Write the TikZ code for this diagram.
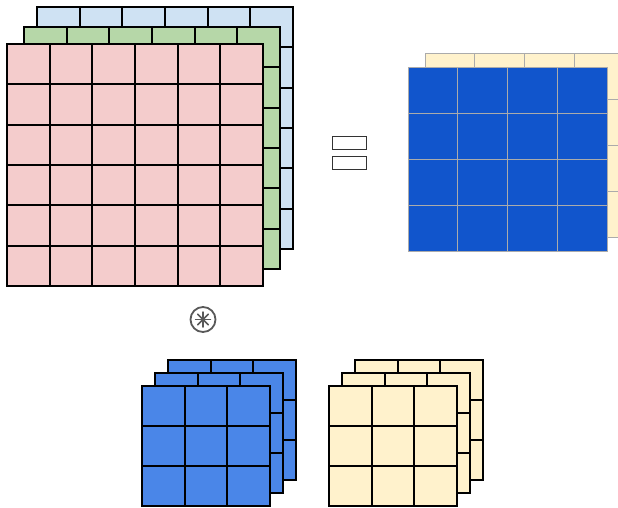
\documentclass[tikz,border=0pt]{standalone}
\usepackage{tikz}
\usetikzlibrary{positioning,calc}
\definecolor{chred}{HTML}{F4CCCC}
\definecolor{chgreen}{HTML}{B6D7A8}
\definecolor{chblue}{HTML}{CFE2F3}
\definecolor{kblue}{HTML}{4A86E8}
\definecolor{kyellow}{HTML}{FFF2CC}
\definecolor{outblue}{HTML}{1155CC}
\definecolor{outline}{HTML}{ABABAB}
\newcommand{\fmaplayer}[6]{%
  \draw[#6] (#1) rectangle ++(#2*#4, #3*#5);
  \pgfmathtruncatemacro\lastc{#2-1}
  \pgfmathtruncatemacro\lastr{#3-1}
  \foreach \c in {1,...,\lastc}
    \draw[#6, fill=none] ($(#1)+(\c*#4,0)$) -- ++(0,#3*#5);
  \foreach \r in {1,...,\lastr}
    \draw[#6, fill=none] ($(#1)+(0,\r*#5)$) -- ++(#2*#4,0);
}

\begin{document}
\begin{tikzpicture}[
  x=1pt, y=-1pt,
  cell/.style={draw=black, line width=2.2pt},
  outcell/.style={draw=outline, line width=1pt},
  eqbar/.style={draw=black!80, line width=1pt, fill=white, inner sep=0pt,
                minimum width=34pt, minimum height=13pt},
  conv/.style={circle, draw=black!65, line width=1.8pt, minimum size=25pt, inner sep=0pt}
]
  \useasboundingbox (0,0) rectangle (618,507);
  % input feature map
  \coordinate (in-b) at (37,7);
  \coordinate (in-g) at (24,27);
  \coordinate (in-r) at (7,44);
  \fmaplayer{in-b}{6}{6}{42.67}{40.33}{cell, fill=chblue}
  \fmaplayer{in-g}{6}{6}{42.67}{40.33}{cell, fill=chgreen}
  \fmaplayer{in-r}{6}{6}{42.67}{40.33}{cell, fill=chred}
  % equals
  \node[eqbar] (eqtop) at (349,142.5) {};
  \node[eqbar, below=6pt of eqtop] (eqbot) {};
  % output feature map
  \coordinate (out-y) at (425,53);
  \coordinate (out-b) at (408,67);
  \fmaplayer{out-y}{4}{4}{49.75}{46}{outcell, fill=kyellow}
  \fmaplayer{out-b}{4}{4}{49.75}{46}{outcell, fill=outblue}
  % convolution
  \node[conv] (op) at (203,319.5) {};
  \foreach \a in {0,45,...,315}
    \draw[black!65, line width=1.5pt, line cap=round] (op.center) -- ++(\a:7.5);
  % kernels
  \coordinate (k1-3) at (168,360);
  \coordinate (k1-2) at (155,373);
  \coordinate (k1-1) at (142,386);
  \fmaplayer{k1-3}{3}{3}{42.67}{40}{cell, fill=kblue}
  \fmaplayer{k1-2}{3}{3}{42.67}{40}{cell, fill=kblue}
  \fmaplayer{k1-1}{3}{3}{42.67}{40}{cell, fill=kblue}
  \coordinate (k2-3) at (355,360);
  \coordinate (k2-2) at (342,373);
  \coordinate (k2-1) at (329,386);
  \fmaplayer{k2-3}{3}{3}{42.67}{40}{cell, fill=kyellow}
  \fmaplayer{k2-2}{3}{3}{42.67}{40}{cell, fill=kyellow}
  \fmaplayer{k2-1}{3}{3}{42.67}{40}{cell, fill=kyellow}
\end{tikzpicture}
\end{document}
